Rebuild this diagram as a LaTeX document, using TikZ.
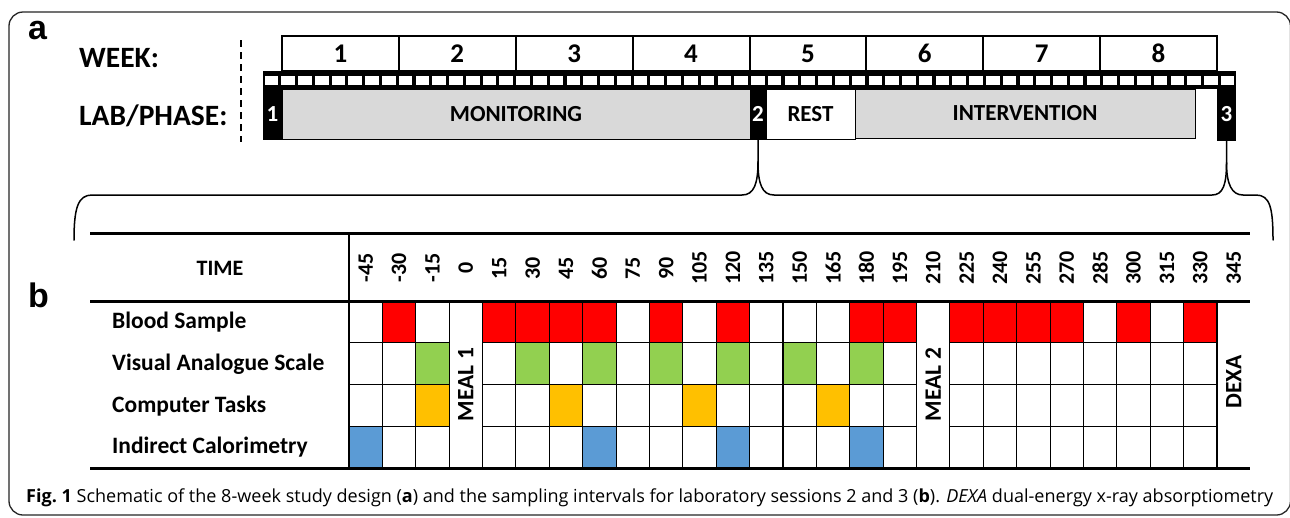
\documentclass[tikz,border=0pt]{standalone}
\usepackage{fontspec}
\usepackage{graphicx}
\setmainfont{Carlito}
\newfontfamily\helv{Liberation Sans}
\newfontfamily\capfont{Open Sans}
\usetikzlibrary{calc}
\definecolor{cred}{HTML}{FF0000}
\definecolor{cgreen}{HTML}{92D050}
\definecolor{corange}{HTML}{FFC000}
\definecolor{cblue}{HTML}{5B9BD5}
\definecolor{cgray}{HTML}{D9D9D9}
\tikzset{
  weekbox/.style={draw, line width=2pt, minimum width=116.875pt, minimum height=35pt, inner sep=0pt, font=\bfseries\fontsize{27}{27}\selectfont},
  labbox/.style={fill=black, text=white, minimum width=19pt, minimum height=51pt, inner sep=0pt, font=\bfseries\fontsize{23}{23}\selectfont},
  phasebox/.style={draw, line width=0.8pt, minimum height=50pt, inner sep=0pt, font=\bfseries\fontsize{23}{23}\selectfont},
  rowlabel/.style={anchor=west, inner sep=0pt, font=\bfseries\fontsize{23.5}{23.5}\selectfont},
  timelabel/.style={rotate=90, inner sep=0pt, font=\bfseries\fontsize{22}{22}\selectfont},
  meallabel/.style={rotate=90, inner sep=0pt, font=\bfseries\fontsize{23.5}{23.5}\selectfont},
  cellbox/.style={draw, line width=1.1pt},
  brace/.style={line width=1.5pt, line cap=round},
  thickrule/.style={line width=3pt},
  panellabel/.style={font=\helv\bfseries\fontsize{34}{34}\selectfont, anchor=base west, inner sep=0pt},
}
\begin{document}
\begin{tikzpicture}[x=1pt,y=-1pt]
\useasboundingbox (0,0) rectangle (1290,517);
\fill[white] (0,0) rectangle (1290,517);
% frame
\draw[line width=1.3pt, black!85, rounded corners=14pt] (9,12) rectangle (1290.5,515);
% panel labels
\node[panellabel] (pa) at (28,39) {a};
\node[panellabel] (pb) at (28,307) {b};
% left labels
\node[rowlabel, font=\bfseries\fontsize{29.5}{29.5}\selectfont] (weeklab) at (79,58) {WEEK:};
\node[rowlabel, font=\bfseries\fontsize{29.5}{29.5}\selectfont] (phaselab) at (79,116) {LAB/PHASE:};
\draw[line width=1.5pt, dash pattern=on 7pt off 5pt] (241,40) -- (241,142);
% day strip
\fill[black] (263,71) rectangle (1236,89);
\foreach \i in {0,...,57} {
  \fill[white] ({263+\i*16.776+1.6},75.5) rectangle ({263+\i*16.776+15.2},84.5);
}
% week boxes
\foreach \i in {1,...,8} {
  \node[weekbox] (w\i) at ({282+(\i-0.5)*116.875},53.5) {\i};
}
% phase row
\node[phasebox, fill=cgray] (mon) at (516,114) [minimum width=468pt] {MONITORING};
\node[phasebox, fill=white] (rest) at (810.5,114) [minimum width=89pt] {REST};
\node[phasebox, fill=cgray] (int) at (1025,113.5) [minimum width=340pt, minimum height=49pt] {INTERVENTION};
\node[labbox] (lab1) at (272.5,114) {1};
\node[labbox] (lab2) at (758,114) [minimum width=16pt] {2};
\node[labbox] (lab3) at (1226.5,114) [minimum height=53pt] {3};
% brace
\coordinate (t2) at ($(lab2.south)+(0,22)$);
\coordinate (t3) at ($(lab3.south)+(0,22)$);
\draw[brace] (74,240) .. controls +(0,-32) and +(-14,0) .. (92,195) -- (742,195) .. controls +(12,0) and +(0,22) .. (t2) -- (lab2.south);
\draw[brace] (t2) .. controls +(0,22) and +(-12,0) .. (774,195) -- (1212,195) .. controls +(11,0) and +(0,22) .. (t3) -- (lab3.south);
\draw[brace] (t3) .. controls +(0,22) and +(-11,0) .. (1243,195) -- (1256,195) .. controls +(14,0) and +(0,-32) .. (1273,240);
% table
\def\cw{33.385}
\def\rh{41.75}
\def\xo{349}
\def\yo{301}
% plain cells
\foreach \r in {0,...,3} {
  \foreach \c in {0,1,2,4,5,6,7,8,9,10,11,12,13,14,15,16,18,19,20,21,22,23,24,25} {
    \draw[cellbox, fill=white] ({\xo+\c*\cw},{\yo+\r*\rh}) rectangle ++(\cw,\rh);
  }
}
\foreach \c in {1,4,5,6,7,9,11,15,16,18,19,20,21,23,25} {
  \draw[cellbox, fill=cred] ({\xo+\c*\cw},{\yo}) rectangle ++(\cw,\rh);
}
\foreach \c in {2,5,7,9,11,13,15} {
  \draw[cellbox, fill=cgreen] ({\xo+\c*\cw},{\yo+\rh}) rectangle ++(\cw,\rh);
}
\foreach \c in {2,6,10,14} {
  \draw[cellbox, fill=corange] ({\xo+\c*\cw},{\yo+2*\rh}) rectangle ++(\cw,\rh);
}
\foreach \c in {0,7,11,15} {
  \draw[cellbox, fill=cblue] ({\xo+\c*\cw},{\yo+3*\rh}) rectangle ++(\cw,\rh);
}
% merged columns
\draw[cellbox] ({\xo+3*\cw},301) rectangle ++(\cw,167);
\draw[cellbox] ({\xo+17*\cw},301) rectangle ++(\cw,167);
\node[meallabel] (meal1) at ({\xo+3.5*\cw},384.5) {MEAL 1};
\node[meallabel] (meal2) at ({\xo+17.5*\cw},384.5) {MEAL 2};
\node[meallabel] (dexa) at ({\xo+26.5*\cw},382) {DEXA};
% time labels
\foreach \t [count=\k from 0] in {-45,-30,-15,0,15,30,45,60,75,90,105,120,135,150,165,180,195,210,225,240,255,270,285,300,315,330,345} {
  \node[timelabel] (tl\k) at ({\xo+(\k+0.5)*\cw},268) {\t};
}
% rules
\draw[thickrule] (90,233.5) -- (1250,233.5);
\draw[thickrule] (90,301) -- (1250,301);
\draw[thickrule] (90,468) -- (1250,468);
\draw[line width=2.5pt] (349,233.5) -- (349,468);
% header and row labels
\node[font=\bfseries\fontsize{22}{22}\selectfont, inner sep=0pt] (time) at (220,268) {TIME};
\node[rowlabel] (r1) at (112,322) {Blood Sample};
\node[rowlabel] (r2) at (112,364) {Visual Analogue Scale};
\node[rowlabel] (r3) at (112,406) {Computer Tasks};
\node[rowlabel] (r4) at (112,447) {Indirect Calorimetry};
% caption
\node[anchor=base west, inner sep=0pt] (cap) at (26,502) {\resizebox{1247pt}{\height}{\capfont\fontsize{18}{18}\selectfont {\bfseries Fig.\ 1} Schematic of the 8-week study design ({\bfseries a}) and the sampling intervals for laboratory sessions 2 and 3 ({\bfseries b}). {\itshape DEXA} dual-energy x-ray absorptiometry}};
\end{tikzpicture}
\end{document}
